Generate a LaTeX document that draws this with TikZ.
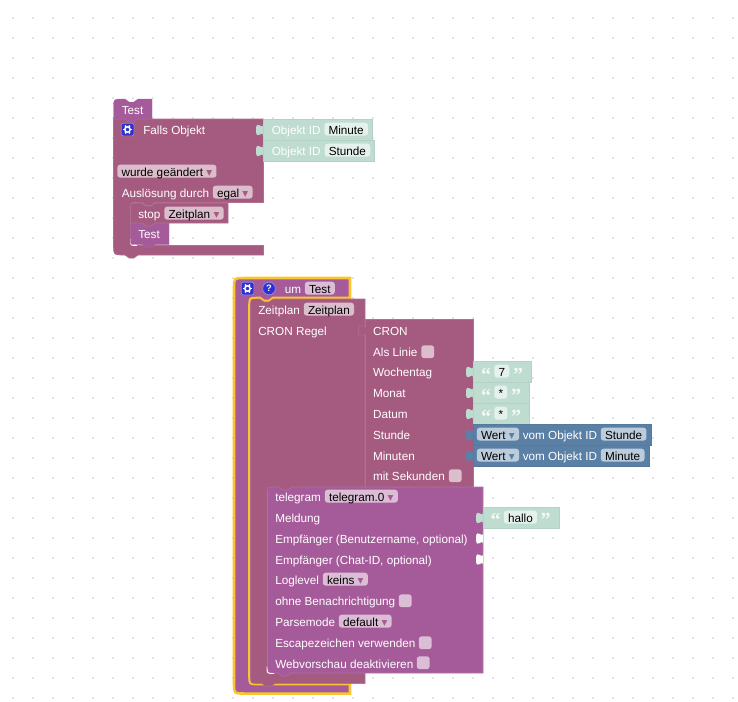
\documentclass[tikz,border=0pt]{standalone}
\usepackage{fontspec}
\setmainfont{Liberation Sans}
\newfontfamily\symfont{DejaVu Sans}
\newfontfamily\quotefont{Liberation Serif}[BoldFont={Liberation Serif Bold}]
\usetikzlibrary{positioning, calc}
\definecolor{c1}{HTML}{A55B80}
\definecolor{c2}{HTML}{A55B99}
\definecolor{c3}{HTML}{BFDCD0}
\definecolor{c4}{HTML}{5B80A5}
\definecolor{c5}{HTML}{FBC52D}
\definecolor{c6}{HTML}{3030D0}
\newcommand{\dentR}{-- ++(4,3) -- ++(5,0) -- ++(4,-3)}
\newcommand{\dentL}{-- ++(-4,3) -- ++(-5,0) -- ++(-4,-3)}
\newcommand{\dd}[1]{ {\symfont\textcolor{#1}{▾}}}

\begin{document}
\begin{tikzpicture}[
    x=0.75pt, y=-0.75pt,
    evblock/.style={fill=c1, draw=c1!88!white, line width=0.4pt},
    plblock/.style={fill=c2, draw=c2!88!white, line width=0.4pt},
    hatblock/.style={fill=c2, draw=c2!92!white, line width=0.3pt},
    lbl/.style={font=\fontsize{8.8}{10}\selectfont, anchor=base west, inner sep=0pt, text=white},
    txtbox/.style={font=\fontsize{8.8}{10}\selectfont, anchor=base west, inner xsep=3.2pt, inner ysep=0pt,
        text height=8.5pt, text depth=1.2pt, fill=white, fill opacity=0.6, text opacity=1, text=black, rounded corners=2.2pt},
    chkbox/.style={anchor=north west, inner sep=0pt, minimum size=9.7pt, fill=white, fill opacity=0.6, rounded corners=2.2pt},
    iconbox/.style={fill=c6, draw=c6!55!white, line width=0.5pt, rounded corners=1.5pt, minimum size=9.5pt, inner sep=0pt},
    qmark/.style={font=\quotefont\bfseries\fontsize{15}{15}\selectfont, anchor=base, inner sep=0pt, text=white, text opacity=0.85},
    tabpic/.pic={\path[pic actions] (0,0) .. controls (0,8) and (-7,-6.5) .. (-7,6) .. controls (-7,18.5) and (0,4) .. (0,12);},
    gearicon/.pic={
        \node[iconbox] (-box) {};
        \draw[white, line width=1.1pt] (0,0) circle (2.7);
        \foreach \a in {0,60,...,300}{\draw[white, line width=1.2pt] (\a:3) -- (\a:4.6);}
    },
]
\useasboundingbox (0,0) rectangle (738,701);

% === WORKSPACE DOTS ===
\foreach \i in {13,33,...,733}{
    \foreach \j in {18,38,...,698}{
        \fill[black!10] (\i-1,\j-1) rectangle +(2,2);
    }
}

% === UPPER STACK ===
\draw[evblock] (113.5,119) -- (263.5,119) -- (263.5,202.5) -- (155,202.5) \dentL -- (137,202.5) .. controls (130.5,202.5) .. (130.5,209)
    -- (130.5,239) .. controls (130.5,245.5) .. (137,245.5) -- (263.5,245.5) -- (263.5,255) -- (138,255) \dentL -- (123,255)
    .. controls (113.5,255) .. (113.5,245.5) -- cycle;
\draw[white, line width=0.7pt] (130.5,239) .. controls (130.5,245.5) .. (137,245.5);
\draw[hatblock] (113.5,108) .. controls (113.5,99) .. (122.5,99) -- (125,99) \dentR -- (152,99) -- (152,119) -- (138,119) \dentL -- (113.5,119) -- cycle;
\draw[hatblock] (130.5,223) -- (142,223) \dentR -- (169,223) -- (169,244.5) -- (155.5,244.5) \dentL -- (136,244.5) .. controls (130.5,244.5) .. (130.5,239) -- cycle;
\draw[evblock] (130.5,209) .. controls (130.5,203) .. (136.5,203) -- (142,203) \dentR -- (228,203) -- (228,223) -- (155,223) \dentL -- (130.5,223) -- cycle;

% === LOWER STACK ===
\draw[fill=c2, draw=c5, line width=1.9pt] (234,288) .. controls (234,278) .. (244,278) -- (350,278) -- (350,298) -- (273,298) \dentL -- (257,298)
    .. controls (249.5,298) .. (249.5,306) -- (249.5,676) .. controls (249.5,684) .. (257,684) -- (350,684) -- (350,693.5) -- (244,693.5)
    .. controls (234,693.5) .. (234,683.5) -- cycle;
\draw[evblock] (250.5,306) .. controls (250.5,299) .. (257.5,299) -- (260,299) \dentR -- (365,299) -- (365,683.5) -- (275,683.5) \dentL -- (258,683.5)
    .. controls (250.5,683.5) .. (250.5,676) -- cycle;
\pic[evblock] at (365.5,325) {tabpic};
\draw[evblock] (365.5,319.5) -- (473,319.5) -- (473,487.5) -- (365.5,487.5) -- cycle;
\fill[c1] (366.5,325.5) .. controls (366.5,332) and (360,320) .. (360,331) .. controls (360,342) and (366.5,329) .. (366.5,336.5) -- cycle;
\draw[plblock] (267.5,492) .. controls (267.5,487) .. (272.5,487) -- (279,487) \dentR -- (483,487) -- (483,673) -- (291,673) \dentL -- (274,673)
    .. controls (267.5,673) .. (267.5,666.5) -- cycle;
\draw[white, line width=0.7pt] (267,666.5) .. controls (267,673.5) .. (274,673.5);

% === VALUE BLOCKS ===
\foreach \xa/\ya/\xb/\yb/\col in {
    263/119/372/140/c3,
    263/140/374/161/c3,
    473/361/531/382/c3,
    473/382/529/403/c3,
    473/403/529/424/c3,
    473/424/651/445/c4,
    473/445/649/466/c4,
    483/507/559.5/528/c3%
}{
    \draw[fill=\col, draw=\col!95!black, line width=0.2pt] (\xa,\ya) rectangle (\xb,\yb);
}
\foreach \xa/\ya/\col in {
    263/124/c3, 263/145/c3, 473/366/c3, 473/387/c3, 473/408/c3,
    473/429/c4, 473/450/c4, 483/512/c3, 483/532.5/white, 483/553.5/white%
}{
    \pic[fill=\col] at (\xa,\ya) {tabpic};
}

% === LABELS ===
\foreach \i/\j/\name [count=\idx] in {
    121.5/114/Test, 143/134/Falls Objekt, 271.5/134/Objekt ID, 271.5/155/Objekt ID,
    121.5/197/Auslösung durch, 138/218/stop, 138/238/Test,
    284.5/293/um, 258/314/Zeitplan, 258/335/CRON Regel,
    372.8/335/CRON, 372.8/356/Als Linie, 372.8/376/Wochentag, 372.8/397/Monat, 372.8/418/Datum,
    372.8/439/Stunde, 372.8/460/Minuten, 372.8/480/mit Sekunden,
    522.5/439/vom Objekt ID, 522.5/460/vom Objekt ID,
    275/501/telegram, 275/522/Meldung, 275/543/{Empfänger (Benutzername, optional)},
    275/564/{Empfänger (Chat-ID, optional)}, 275/584/Loglevel, 275/605/ohne Benachrichtigung,
    275/626/Parsemode, 275/647/Escapezeichen verwenden, 275/668/Webvorschau deaktivieren%
}{
    \node[lbl] (lbl\idx) at (\i,\j) {\name};
}

% === FIELDS ===
\foreach \i/\j/\name [count=\idx] in {
    324/134/Minute, 324.3/155/Stunde, 117/176/wurde geändert\dd{c1}, 212.5/197/egal\dd{c1},
    164/218/Zeitplan\dd{c1}, 304.5/293/Test, 303.5/314/Zeitplan,
    494/376/7, 494/397/*, 494/418/*,
    476.5/439/Wert\dd{c4}, 600.5/439/Stunde, 476.5/460/Wert\dd{c4}, 600.5/460/Minute,
    324.5/501/telegram.0\dd{c2}, 503.5/522/hallo, 322.5/584/keins\dd{c2}, 338.5/626/default\dd{c2}%
}{
    \node[txtbox] (fld\idx) at (\i,\j) {\name};
}

% === CHECKBOXES ===
\foreach \i/\j [count=\idx] in {421/345, 448.5/469, 398.5/594, 418.5/636, 416.5/656}{
    \node[chkbox] (chk\idx) at (\i,\j) {};
}

% === QUOTES ===
\foreach \i/\j/\name [count=\idx] in {
    486/381.5/“, 518/381.5/”, 486/402.5/“, 516/402.5/”, 486/423.5/“, 516/423.5/”, 495.5/526.5/“, 545.5/526.5/”%
}{
    \node[qmark] (qt\idx) at (\i,\j) {\name};
}

% === ICONS ===
\pic (gearA) at (127.5,129.5) {gearicon};
\pic (gearB) at (247.5,288.5) {gearicon};
\node[circle, fill=c6, draw=c6!55!white, line width=0.5pt, minimum size=9.5pt, inner sep=0pt, text=white,
    font=\fontsize{7}{7}\selectfont\bfseries] (help) at (269,288.5) {?};

\end{tikzpicture}
\end{document}
